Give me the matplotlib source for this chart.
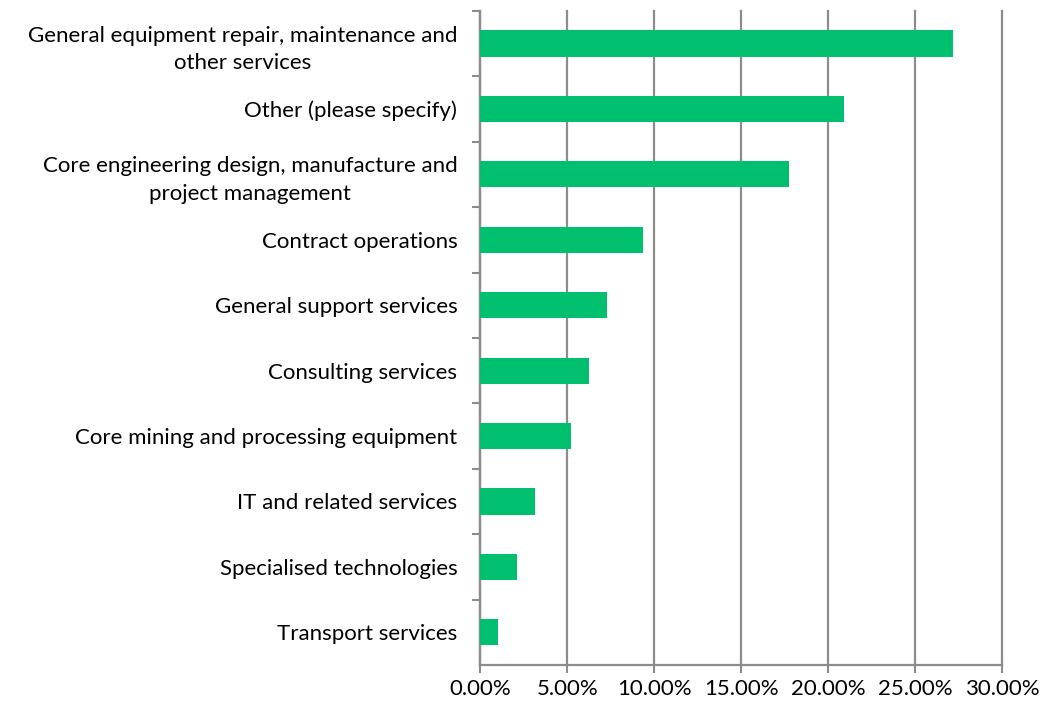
import matplotlib
matplotlib.use("Agg")
import matplotlib.pyplot as plt
from matplotlib.ticker import PercentFormatter

categories = [
    "General equipment repair, maintenance and\nother services",
    "Other (please specify)",
    "Core engineering design, manufacture and\nproject management",
    "Contract operations",
    "General support services",
    "Consulting services",
    "Core mining and processing equipment",
    "IT and related services",
    "Specialised technologies",
    "Transport services",
]
shares = [27.15, 20.9, 17.76, 9.37, 7.26, 6.25, 5.21, 3.13, 2.09, 1.0]
xticks = [0, 5, 10, 15, 20, 25, 30]

plt.rcParams["font.family"] = ["Lato", "DejaVu Sans"]

fig = plt.figure(figsize=(10.45, 7.08), dpi=100)
ax = fig.add_axes([0.4596, 0.0607, 0.4995, 0.924])

grey = "#8c8c8c"
pos = list(range(len(categories)))[::-1]
ax.barh(pos, shares, height=0.4, color="#00bf6f", zorder=3)

ax.set_xlim(0, 30)
ax.set_ylim(-0.5, len(categories) - 0.5)
ax.set_xticks(xticks)
ax.xaxis.set_major_formatter(PercentFormatter(decimals=2))
ax.set_yticks(pos)
ax.set_yticklabels(categories, multialignment="center", linespacing=1.45)
# ticks sit between the categories
ax.set_yticks([p + 0.5 for p in pos], minor=True)
ax.tick_params(axis="y", which="major", length=0, pad=16.5, labelsize=16)
ax.tick_params(axis="y", which="minor", length=6, width=1.5, color=grey)
ax.tick_params(axis="x", length=6, width=1.5, color=grey, labelsize=16, pad=4)

ax.grid(axis="x", color=grey, linewidth=1.6, zorder=0)
for line in ax.get_xgridlines():
    line.set_clip_on(False)
for s in ("top", "right"):
    ax.spines[s].set_visible(False)
for s in ("left", "bottom"):
    ax.spines[s].set_color(grey)
    ax.spines[s].set_linewidth(1.6)

fig.savefig("out.png", dpi=100)
